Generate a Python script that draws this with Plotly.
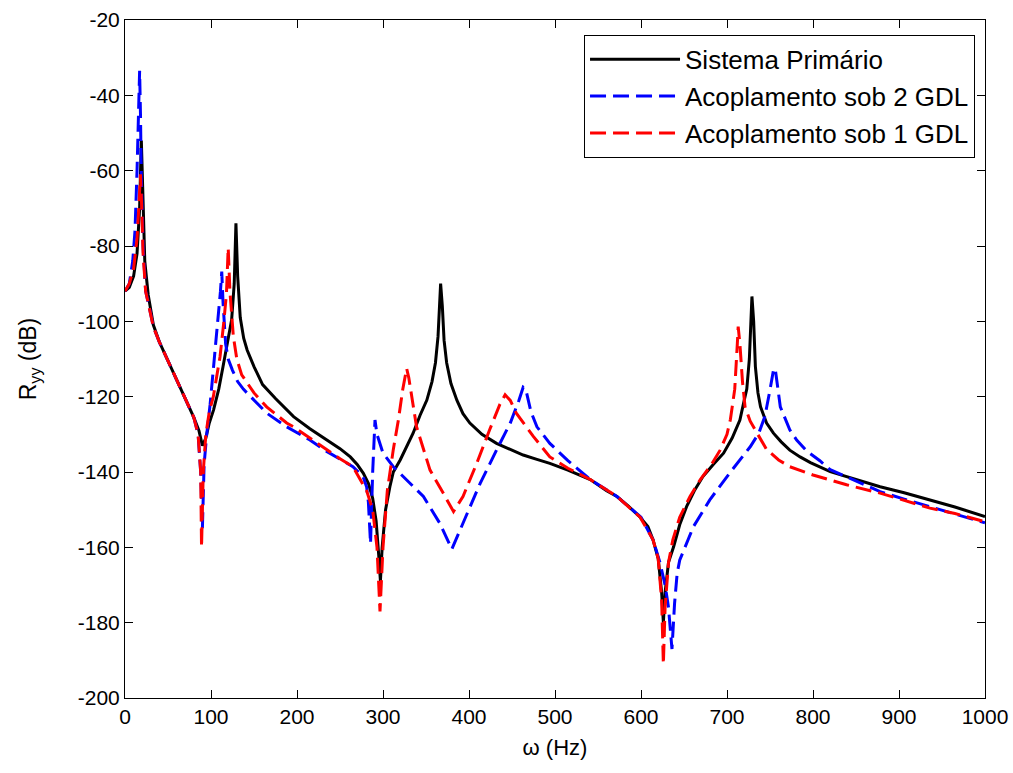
import plotly.graph_objects as go

# ---- data ----
freq_primario = [0, 5, 10, 14, 17, 19, 21, 23, 27, 33, 40, 48, 56, 65, 73, 80, 86, 90, 94, 98,
                 103, 109, 114, 120, 124, 127, 129, 131, 134, 138, 142, 150, 160, 175, 188, 196,
                 215, 235, 250, 262, 270, 277, 283, 288, 292, 295, 297, 299, 303, 308, 312, 320,
                 328, 335, 343, 351, 357, 361, 364, 366, 367, 369, 371, 374, 379, 386, 393, 401,
                 415, 432, 447, 463, 478, 494, 515, 541, 560, 572, 585, 599, 608, 614, 620, 624,
                 626, 628, 632, 638, 645, 653, 662, 672, 684, 696, 706, 715, 720, 723, 726, 728,
                 729, 731, 733, 736, 739, 746, 754, 763, 773, 785, 797, 820, 850, 878, 906, 936,
                 965, 1000]
ryy_primario = [-92, -91, -88, -82, -70, -52, -68, -84, -93, -101, -105.5, -109.5, -113.8, -118,
                -122, -125.5, -129, -133, -131, -127, -123.5, -118, -112, -105, -99.6, -90, -74,
                -88, -99, -104.5, -107.6, -112, -116.8, -120.5, -123.5, -125.3, -128.5, -131.5,
                -133.8, -136, -138, -140.3, -143, -147, -153, -162, -169, -160, -150, -143.9,
                -140, -136.8, -133, -129.7, -125, -120.9, -116, -111, -104, -94, -90, -96, -105,
                -111, -116.5, -121, -124.5, -127, -130, -132.4, -134, -135.5, -136.6, -137.7,
                -139.5, -142, -145, -146.5, -149, -152, -154.5, -158, -163, -172, -180, -172,
                -164, -159.8, -154, -149.2, -145, -141.2, -138, -135, -131, -126.2, -121, -118,
                -110, -98, -93.4, -100, -112, -119, -122.7, -127, -129.7, -132, -134.2, -136,
                -137.5, -139.9, -142, -143.9, -145.5, -147.4, -149.3, -151.8]

freq_2gdl = [0, 5, 9, 11.6, 14, 16, 17, 18, 19, 21, 24, 28, 33, 40, 48, 56, 65, 73, 80, 85, 88,
             90, 92, 95, 99, 103, 108.5, 111, 112.5, 114, 117, 120, 125, 131, 137.6, 150, 165,
             188, 196, 215, 235, 250, 265, 277, 281, 283, 285.5, 288, 290.7, 293, 300, 312,
             327.5, 347, 366, 380, 393, 413, 432, 448, 458, 463, 466, 472, 479, 494, 515, 541,
             572, 600, 614, 622, 628, 632, 636, 639, 642, 645, 661, 680, 703, 727, 737, 744,
             750, 754, 756, 759, 762, 773, 781, 793, 808, 820, 850, 878, 906, 936, 965, 1000]
ryy_2gdl = [-92, -90, -84, -76, -60, -40, -33.5, -45, -62, -80, -92, -96, -101.5, -105.5, -109.5,
            -113.8, -118, -122, -125.5, -130, -140, -155, -138, -130, -122, -112, -99.6, -92,
            -86.8, -95, -106, -110, -113, -116, -118, -121, -124.4, -128, -129, -131.5, -134.6,
            -136.5, -138.6, -141.3, -144, -148, -159, -140, -126.2, -130, -135, -138.6, -142,
            -146.5, -153.6, -160.5, -153.6, -143, -134.2, -127, -121, -117.5, -118, -124, -128,
            -132.4, -137, -142, -146.5, -152, -158, -164, -170, -176, -187, -175, -167, -163.4,
            -154.5, -147.4, -140.3, -133.3, -129.7, -125.3, -118.2, -113, -112.5, -117, -122.7,
            -128.8, -131.5, -134.5, -137, -139.4, -142.5, -145.2, -147.2, -149.2, -151, -153.5]

freq_1gdl = [0, 5, 10, 14, 16, 18, 19.5, 21, 24, 28, 33, 40, 48, 56, 65, 73, 80, 85, 88, 89, 91,
             94, 98, 102.7, 110.5, 115, 118, 120, 122, 126, 130, 135.7, 150, 164.7, 188, 196,
             215, 235, 250, 265, 281, 288, 293, 296.5, 300, 305, 312, 318, 323, 327.5, 330, 339,
             354.7, 370, 382, 393, 409, 424, 436, 442, 448, 455, 475, 494, 515, 541, 572, 599,
             614, 620, 624, 626, 628, 632, 637, 645, 657, 669, 682, 692, 700, 704, 709, 712, 713,
             715, 718, 721, 727, 735, 746, 760, 773, 800, 839, 878, 906, 936, 965, 1000]
ryy_1gdl = [-92, -90, -86, -78, -70, -61, -70, -82, -92, -96, -101.5, -105.5, -109.5, -113.8,
            -118, -122, -125.5, -130, -140, -160, -140, -130, -124, -120, -109.4, -100, -92.5,
            -80.5, -92, -104, -110, -114.2, -119, -122.7, -127, -128, -131, -134.2, -136.5,
            -138.6, -145, -150, -160, -177, -160, -145, -134, -126, -118, -112.5, -115, -128,
            -139.5, -145.6, -150.5, -146.5, -137.7, -128.8, -122, -119.5, -121, -124.4, -130.6,
            -136, -139, -142, -146.5, -152, -158, -163, -174, -191, -176, -164, -158, -152,
            -146.5, -142, -138, -134.2, -130, -126, -118, -106, -101.4, -106, -116, -122.7,
            -126.5, -129.7, -134, -136.8, -138.6, -140.8, -143.4, -145.6, -147.5, -149.6, -151,
            -153.2]

x_ticks = [0, 100, 200, 300, 400, 500, 600, 700, 800, 900, 1000]
y_ticks = [-200, -180, -160, -140, -120, -100, -80, -60, -40, -20]
x_labels = [str(v) for v in x_ticks]
y_labels = [str(v) for v in y_ticks]  # plain hyphen-minus like the reference

FONT = "Liberation Sans, Arial, sans-serif"

fig = go.Figure()
fig.add_trace(go.Scatter(x=freq_primario, y=ryy_primario, mode="lines",
                         name="Sistema Primário", legendgroup="a",
                         line=dict(color="black", width=3)))
fig.add_trace(go.Scatter(x=freq_2gdl, y=ryy_2gdl, mode="lines",
                         name="Acoplamento sob 2 GDL", legendgroup="b",
                         line=dict(color="#0000ff", width=3, dash="16px,7px")))
fig.add_trace(go.Scatter(x=freq_1gdl, y=ryy_1gdl, mode="lines",
                         name="Acoplamento sob 1 GDL", legendgroup="c",
                         line=dict(color="#ff0000", width=3, dash="16px,7px")))

axis_common = dict(showline=True, linecolor="black", linewidth=1, mirror="allticks",
                   ticks="inside", ticklen=8, tickcolor="black", showgrid=False,
                   zeroline=False, automargin=False,
                   tickfont=dict(family=FONT, size=21, color="black"))

fig.update_layout(
    width=1013, height=773,
    margin=dict(l=125, r=28, t=20, b=75),
    paper_bgcolor="white", plot_bgcolor="white",
    font=dict(family=FONT, color="black"),
    showlegend=True,
    legend=dict(x=0.9884, y=0.978, xanchor="right", yanchor="top",
                bgcolor="white", bordercolor="black", borderwidth=1,
                font=dict(family=FONT, size=26, color="black"),
                itemwidth=90,
                traceorder="grouped", tracegroupgap=0),
    xaxis=dict(range=[0, 1000], tickvals=x_ticks, ticktext=x_labels,
               title=dict(text="ω (Hz)", font=dict(family=FONT, size=22), standoff=12),
               **axis_common),
    yaxis=dict(range=[-200, -20], tickvals=y_ticks, ticktext=y_labels,
               title=dict(text="R<sub>yy</sub> (dB)", font=dict(family=FONT, size=23), standoff=34),
               **axis_common),
)

fig.write_html("out.html")
